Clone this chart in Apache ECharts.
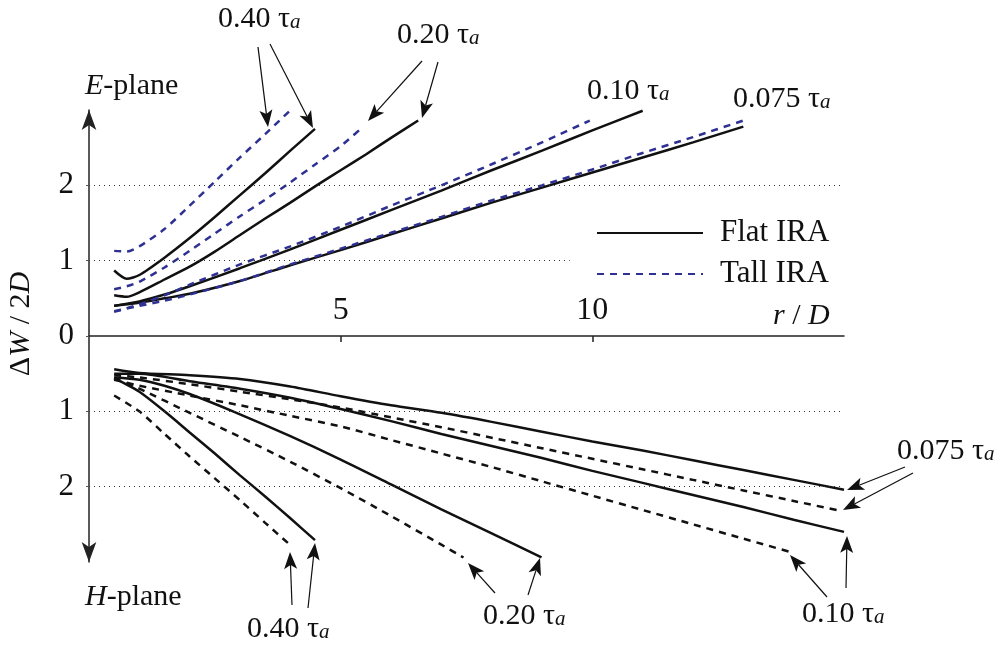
<!DOCTYPE html>
<html>
<head>
<meta charset="utf-8">
<script src="https://cdn.jsdelivr.net/npm/echarts@6/dist/echarts.min.js"></script>
<style>
  html, body { margin: 0; background: #fff; }
  #chart { width: 1006px; height: 656px; }
</style>
</head>
<body>
<div id="chart"></div>
<script>
// beam width dW/2D vs r/D ; E-plane positive, H-plane plotted negative
const eFlat040 = [[0.5,0.87],[0.75,0.76],[1,0.81],[1.5,1.04],[2,1.3],[2.5,1.58],[3,1.87],[3.5,2.16],[4,2.46],[4.49,2.75]];
const eTall040 = [[0.5,1.13],[0.75,1.12],[1,1.19],[1.5,1.42],[2,1.73],[2.5,2.05],[3,2.37],[3.5,2.68],[3.99,2.99]];
const eFlat020 = [[0.5,0.54],[0.75,0.52],[1,0.58],[1.5,0.75],[2,0.92],[2.5,1.12],[3,1.34],[3.5,1.56],[4,1.77],[4.5,1.99],[5,2.2],[5.5,2.41],[6,2.63],[6.54,2.86]];
const eTall020 = [[0.5,0.62],[0.75,0.66],[1,0.72],[1.5,0.91],[2,1.13],[2.5,1.36],[3,1.59],[3.5,1.81],[4,2.04],[4.5,2.28],[5,2.52],[5.45,2.78]];
const eFlat010 = [[0.5,0.4],[1,0.46],[1.5,0.55],[2,0.66],[3,0.9],[4,1.15],[5,1.41],[6,1.67],[7,1.93],[8,2.2],[9,2.46],[10,2.73],[11,2.99]];
const eTall010 = [[0.5,0.32],[1,0.42],[1.5,0.54],[2,0.68],[3,0.95],[4,1.19],[5,1.45],[6,1.73],[7,2.0],[8,2.28],[9,2.57],[9.95,2.86]];
const eFlat0075 = [[0.5,0.4],[1,0.44],[1.5,0.5],[2,0.56],[3,0.73],[4,0.94],[5,1.14],[6,1.35],[7,1.56],[8,1.77],[9,1.97],[10,2.17],[11,2.37],[12,2.57],[13,2.78]];
const eTall0075 = [[0.5,0.33],[1,0.4],[1.5,0.47],[2,0.55],[3,0.73],[4,0.95],[5,1.16],[6,1.37],[7,1.58],[8,1.8],[9,2.0],[10,2.21],[11,2.43],[12,2.64],[13,2.86]];

const hFlat040 = [[0.5,-0.56],[1,-0.74],[1.5,-1.0],[2,-1.28],[2.5,-1.56],[3,-1.85],[3.5,-2.13],[4,-2.42],[4.49,-2.71]];
const hTall040 = [[0.5,-0.79],[1,-1.0],[1.5,-1.3],[2,-1.6],[2.5,-1.89],[3,-2.18],[3.5,-2.48],[3.99,-2.77]];
const hFlat020 = [[0.5,-0.55],[1,-0.58],[1.5,-0.66],[2,-0.77],[2.86,-1.0],[4,-1.33],[5,-1.64],[6,-1.97],[7,-2.3],[8,-2.62],[8.99,-2.94]];
const hTall020 = [[0.5,-0.56],[1,-0.7],[2,-1.02],[3,-1.34],[4,-1.67],[5,-2.02],[6,-2.39],[7,-2.77],[7.44,-2.94]];
const hFlat010 = [[0.5,-0.5],[1,-0.5],[2,-0.6],[3,-0.7],[4,-0.82],[5,-0.97],[6,-1.13],[7,-1.3],[8,-1.46],[9,-1.62],[10,-1.79],[11,-1.95],[12,-2.11],[13,-2.27],[14,-2.44],[15,-2.6]];
const hTall010 = [[0.5,-0.58],[1,-0.66],[2,-0.79],[3,-0.92],[4,-1.06],[5,-1.2],[6,-1.38],[7,-1.56],[8,-1.74],[9,-1.93],[10,-2.12],[11,-2.31],[12,-2.5],[13,-2.69],[13.9,-2.86]];
const hFlat0075 = [[0.5,-0.44],[1,-0.49],[2,-0.52],[3,-0.57],[4,-0.67],[5,-0.8],[6,-0.92],[7,-1.02],[8,-1.14],[9,-1.27],[10,-1.4],[11,-1.52],[12,-1.65],[13,-1.78],[14,-1.91],[15,-2.04]];
const hTall0075 = [[0.5,-0.52],[1,-0.55],[2,-0.64],[3,-0.74],[4,-0.84],[5,-0.95],[6,-1.08],[7,-1.21],[8,-1.35],[9,-1.49],[10,-1.63],[11,-1.77],[12,-1.91],[13,-2.05],[14,-2.19],[14.92,-2.32]];

const xTicks = [5, 10];
const yTicks = [-2, -1, 0, 1, 2];
const legendNames = ['Flat IRA', 'Tall IRA'];

const SERIF = "'Liberation Serif', 'Times New Roman', serif";
const BLUE = '#2e3192';

function flat(data) {
  return { name: 'Flat IRA', type: 'line', data: data, symbol: 'none', smooth: 0.25, z: 3,
    lineStyle: { color: '#111', width: 2.5, type: 'solid' }, itemStyle: { color: '#111' } };
}
function tall(data, color) {
  return { name: 'Tall IRA', type: 'line', data: data, symbol: 'none', smooth: 0.25, z: 4,
    lineStyle: { color: color, width: 2.5, type: [7, 6] }, itemStyle: { color: color } };
}

// annotation helpers (pixel layout)
function arrow(x1, y1, x2, y2) {
  const a = Math.atan2(y2 - y1, x2 - x1);
  const L = 17, W = 6.5;
  const bx = x2 - L * Math.cos(a), by = y2 - L * Math.sin(a);
  const nx = x2 - (L - 4) * Math.cos(a), ny = y2 - (L - 4) * Math.sin(a);
  return [
    { type: 'line', shape: { x1: x1, y1: y1, x2: nx, y2: ny }, style: { stroke: '#111', lineWidth: 1.2 } },
    { type: 'polygon', shape: { points: [[x2, y2], [bx + W * Math.sin(a), by - W * Math.cos(a)], [nx, ny], [bx - W * Math.sin(a), by + W * Math.cos(a)]] },
      style: { fill: '#111' } }
  ];
}
const rich = {
  m: { fontSize: 30, fontFamily: SERIF, fill: '#111', padding: [0, 0, 7, 0] },
  i: { fontSize: 30, fontFamily: SERIF, fontStyle: 'italic', fill: '#111', padding: [0, 0, 7, 0] },
  s: { fontSize: 21, fontFamily: SERIF, fontStyle: 'italic', fill: '#111' }
};
function txt(text, x, y, extra) {
  return Object.assign({ type: 'text', x: x, y: y, z: 10,
    style: { text: text, rich: rich, verticalAlign: 'top', align: 'left' } }, extra || {});
}
function tau(val, x, y) { return txt('{m|' + val + ' τ}{s|a}', x, y); }

const graphics = [
  txt('{i|E}{m|-plane}', 85, 71),
  txt('{i|H}{m|-plane}', 85, 582),
  txt('{i|r}{m| / }{i|D}', 773, 301),
  txt('', 25, 324, { rotation: Math.PI / 2,
    style: { text: '{m|Δ}{i|W}{m| / 2}{i|D}', rich: rich, align: 'center', verticalAlign: 'middle' } }),
  tau('0.40', 218, 4),
  tau('0.20', 397, 20),
  tau('0.10', 587, 76),
  tau('0.075', 733, 84),
  tau('0.40', 247, 614),
  tau('0.20', 483, 601),
  tau('0.10', 802, 599),
  tau('0.075', 897, 436)
].concat(
  arrow(258, 47, 268, 127), arrow(270, 44, 313, 128),
  arrow(422, 61, 368, 121), arrow(438, 62, 422, 118),
  arrow(292, 605, 290, 552), arrow(308, 608, 315, 543),
  arrow(495, 593, 468, 563), arrow(528, 595, 540, 558),
  arrow(827, 597, 790, 555), arrow(846, 588, 847, 536),
  arrow(905, 467, 847, 490), arrow(913, 473, 843, 510)
);

const chart = echarts.init(document.getElementById('chart'));
const option = {
  animation: false,
  backgroundColor: '#fff',
  grid: { left: 89, right: 162, top: 110, bottom: 94 },
  legend: {
    data: legendNames, orient: 'vertical', left: 591, top: 212,
    itemWidth: 106, itemHeight: 14, itemGap: 9, selectedMode: false,
    itemStyle: { opacity: 0 },
    textStyle: { fontFamily: SERIF, fontSize: 31, color: '#111', lineHeight: 32, padding: [0, 0, 0, 12] }
  },
  xAxis: {
    type: 'value', min: 0, max: 15, position: 'bottom', offset: -226,
    axisLine: { onZero: false, lineStyle: { color: '#222', width: 1.5 } },
    axisTick: { customValues: xTicks, length: 6, lineStyle: { color: '#222', width: 1.5 } },
    axisLabel: { customValues: xTicks, inside: true, margin: 9, fontFamily: SERIF, fontSize: 32, color: '#111' },
    splitLine: { show: false }
  },
  yAxis: {
    type: 'value', min: -3, max: 3, interval: 1,
    axisLine: { show: true, symbol: ['arrow', 'arrow'], symbolSize: [11, 20], lineStyle: { color: '#222', width: 1.5 } },
    axisTick: { show: true, customValues: yTicks, length: 3, lineStyle: { color: '#555' } },
    axisLabel: { customValues: yTicks, margin: 15, fontFamily: SERIF, fontSize: 31, color: '#111',
      formatter: function (v) { return String(Math.abs(v)); } },
    splitLine: { show: false }
  },
  graphic: graphics,
  series: [
    flat(eFlat040), flat(eFlat020), flat(eFlat010), flat(eFlat0075),
    tall(eTall040, BLUE), tall(eTall020, BLUE), tall(eTall010, BLUE), tall(eTall0075, BLUE),
    flat(hFlat040), flat(hFlat020), flat(hFlat010), flat(hFlat0075),
    tall(hTall040, '#111'), tall(hTall020, '#111'), tall(hTall010, '#111'), tall(hTall0075, '#111'),
    {
      name: 'grid', type: 'line', data: [], z: 1,
      markLine: {
        silent: true, symbol: 'none', label: { show: false },
        lineStyle: { type: [1, 4], color: '#333', width: 1 },
        data: [
          [{ coord: [0, 2] }, { coord: [15, 2] }],
          [{ coord: [0, 1] }, { coord: [9.55, 1] }],
          [{ coord: [0, -1] }, { coord: [15, -1] }],
          [{ coord: [0, -2] }, { coord: [15, -2] }]
        ]
      }
    }
  ]
};
chart.setOption(option);
</script>
</body>
</html>
